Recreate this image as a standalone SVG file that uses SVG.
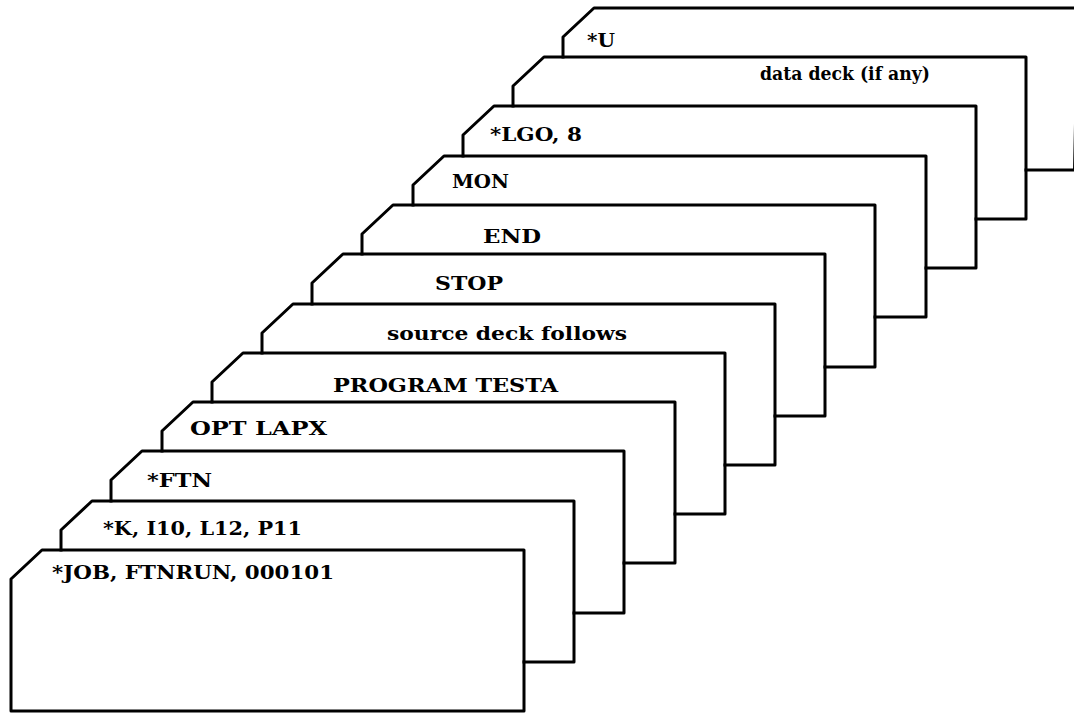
<svg xmlns="http://www.w3.org/2000/svg" width="1074" height="714" viewBox="0 0 1074 714">
<style>
.card{fill:none;stroke:#000;stroke-width:3;stroke-linejoin:round;stroke-linecap:square}
.lbl{font-family:"DejaVu Serif","Liberation Serif",serif;font-weight:bold;font-size:19px;fill:#000}
</style>
<rect width="1074" height="714" fill="#fff"/>
<g id="card-U"><path class="card" d="M563,57 V37 L594,8 H1078 L1074.5,170 H1026"/><text class="lbl" x="587" y="47" textLength="28" lengthAdjust="spacingAndGlyphs">*U</text></g>
<g id="card-data"><path class="card" d="M513,106 V86 L544,57 H1026 V219 H976"/><text class="lbl" x="760" y="80" textLength="170" lengthAdjust="spacingAndGlyphs">data deck (if any)</text></g>
<g id="card-LGO"><path class="card" d="M463,156 V135 L494,106 H976 V268 H926"/><text class="lbl" x="490" y="141" textLength="92" lengthAdjust="spacingAndGlyphs">*LGO, 8</text></g>
<g id="card-MON"><path class="card" d="M413,205 V185 L444,156 H926 V317 H875"/><text class="lbl" x="452" y="188" textLength="57" lengthAdjust="spacingAndGlyphs">MON</text></g>
<g id="card-END"><path class="card" d="M362,254 V234 L393,205 H875 V367 H825"/><text class="lbl" x="483" y="243" textLength="58" lengthAdjust="spacingAndGlyphs">END</text></g>
<g id="card-STOP"><path class="card" d="M312,304 V283 L343,254 H825 V416 H775"/><text class="lbl" x="435" y="290" textLength="68" lengthAdjust="spacingAndGlyphs">STOP</text></g>
<g id="card-source"><path class="card" d="M262,353 V333 L293,304 H775 V465 H725"/><text class="lbl" x="387" y="340" textLength="240" lengthAdjust="spacingAndGlyphs">source deck follows</text></g>
<g id="card-PROGRAM"><path class="card" d="M212,402 V382 L243,353 H725 V514 H675"/><text class="lbl" x="333" y="392" textLength="225" lengthAdjust="spacingAndGlyphs">PROGRAM TESTA</text></g>
<g id="card-OPT"><path class="card" d="M162,451 V431 L193,402 H675 V563 H624"/><text class="lbl" x="190" y="435" textLength="137" lengthAdjust="spacingAndGlyphs">OPT LAPX</text></g>
<g id="card-FTN"><path class="card" d="M111,501 V480 L142,451 H624 V613 H574"/><text class="lbl" x="147" y="487" textLength="65" lengthAdjust="spacingAndGlyphs">*FTN</text></g>
<g id="card-K"><path class="card" d="M61,550 V530 L92,501 H574 V662 H524"/><text class="lbl" x="103" y="535" textLength="199" lengthAdjust="spacingAndGlyphs">*K, I10, L12, P11</text></g>
<g id="card-JOB"><path class="card" d="M42,550 H524 V711 H11 V579 Z"/><text class="lbl" x="52" y="579" textLength="282" lengthAdjust="spacingAndGlyphs">*JOB, FTNRUN, 000101</text></g>
</svg>
